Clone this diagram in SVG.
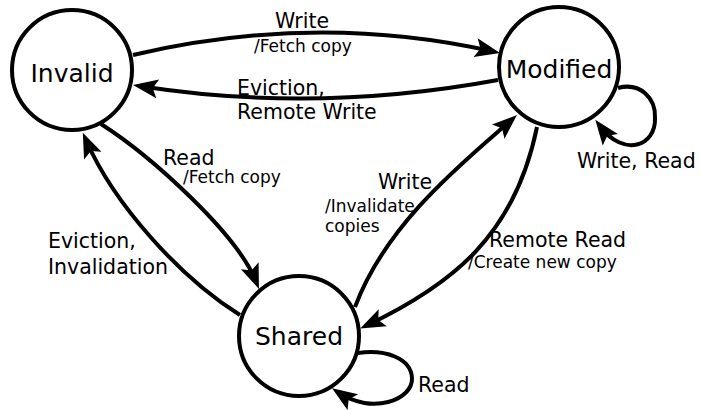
<svg xmlns="http://www.w3.org/2000/svg" width="701" height="410" viewBox="0 0 701 410">
  <defs>
    <style>
      .state { fill: #fff; stroke: #000; stroke-width: 4; }
      .state-label { font-family: "DejaVu Sans", "Liberation Sans", sans-serif; font-size: 25px; text-anchor: middle; fill: #000; }
      .edge { fill: none; stroke: #000; stroke-width: 4; marker-end: url(#arrow); }
      .lbl { font-family: "DejaVu Sans", "Liberation Sans", sans-serif; font-size: 20.5px; fill: #000; }
      .act { font-family: "DejaVu Sans", "Liberation Sans", sans-serif; font-size: 17px; fill: #000; }
    </style>
    <marker id="arrow" markerUnits="userSpaceOnUse" markerWidth="40" markerHeight="30" viewBox="-20 -15 40 30" refX="0" refY="0" orient="auto" overflow="visible">
      <path d="M8,0 L-17,-9.5 L-12,0 L-17,9.5 Z" fill="#000"/>
    </marker>
  </defs>

  <!-- states -->
  <g id="invalid">
    <circle class="state" cx="72" cy="70" r="60"/>
    <text class="state-label" x="72" y="82">Invalid</text>
  </g>
  <g id="modified">
    <circle class="state" cx="559" cy="67" r="60"/>
    <text class="state-label" x="559" y="78">Modified</text>
  </g>
  <g id="shared">
    <circle class="state" cx="299" cy="336" r="60"/>
    <text class="state-label" x="299" y="345">Shared</text>
  </g>

  <!-- transitions -->
  <g id="connectors">
    <!-- Invalid -> Modified -->
    <path class="edge" d="M133,55 Q315.5,12 492.2,51.3"/>
    <!-- Modified -> Invalid -->
    <path class="edge" d="M498,80 Q316.5,113.5 140.9,86.2"/>
    <!-- Invalid -> Shared -->
    <path class="edge" d="M101,124 C151,156 237,233.5 256,281.6"/>
    <!-- Shared -> Invalid -->
    <path class="edge" d="M240,315 C180.5,278 114,204.4 86,140"/>
    <!-- Shared -> Modified -->
    <path class="edge" d="M355,307 C386.5,222.4 466,159.9 511,120.3"/>
    <!-- Modified -> Shared -->
    <path class="edge" d="M537,127 C515,234.8 452.9,284.3 367.4,325.1"/>
    <!-- Modified self loop -->
    <path class="edge" d="M618,88 C640,82 656,98 655,118 C656,146 624,158 600.1,126.2"/>
    <!-- Shared self loop -->
    <path class="edge" d="M358,353 C385,349 411,358 412,378 C413,400 372,415 338.7,392.7"/>
  </g>

  <!-- transition labels -->
  <g id="labels">
    <text class="lbl" x="275" y="28">Write</text>
    <text class="act" x="254" y="52">/Fetch copy</text>

    <text class="lbl" x="237" y="95">Eviction,</text>
    <text class="lbl" x="237" y="119">Remote Write</text>

    <text class="lbl" x="163" y="165">Read</text>
    <text class="act" x="183" y="183">/Fetch copy</text>

    <text class="lbl" x="48" y="248">Eviction,</text>
    <text class="lbl" x="48" y="274">Invalidation</text>

    <text class="lbl" x="378" y="189">Write</text>
    <text class="act" x="325" y="212">/Invalidate</text>
    <text class="act" x="325" y="232">copies</text>

    <text class="lbl" x="489" y="247">Remote Read</text>
    <text class="act" x="468" y="268">/Create new copy</text>

    <text class="lbl" x="577" y="168">Write, Read</text>
    <text class="lbl" x="418" y="392">Read</text>
  </g>
</svg>
